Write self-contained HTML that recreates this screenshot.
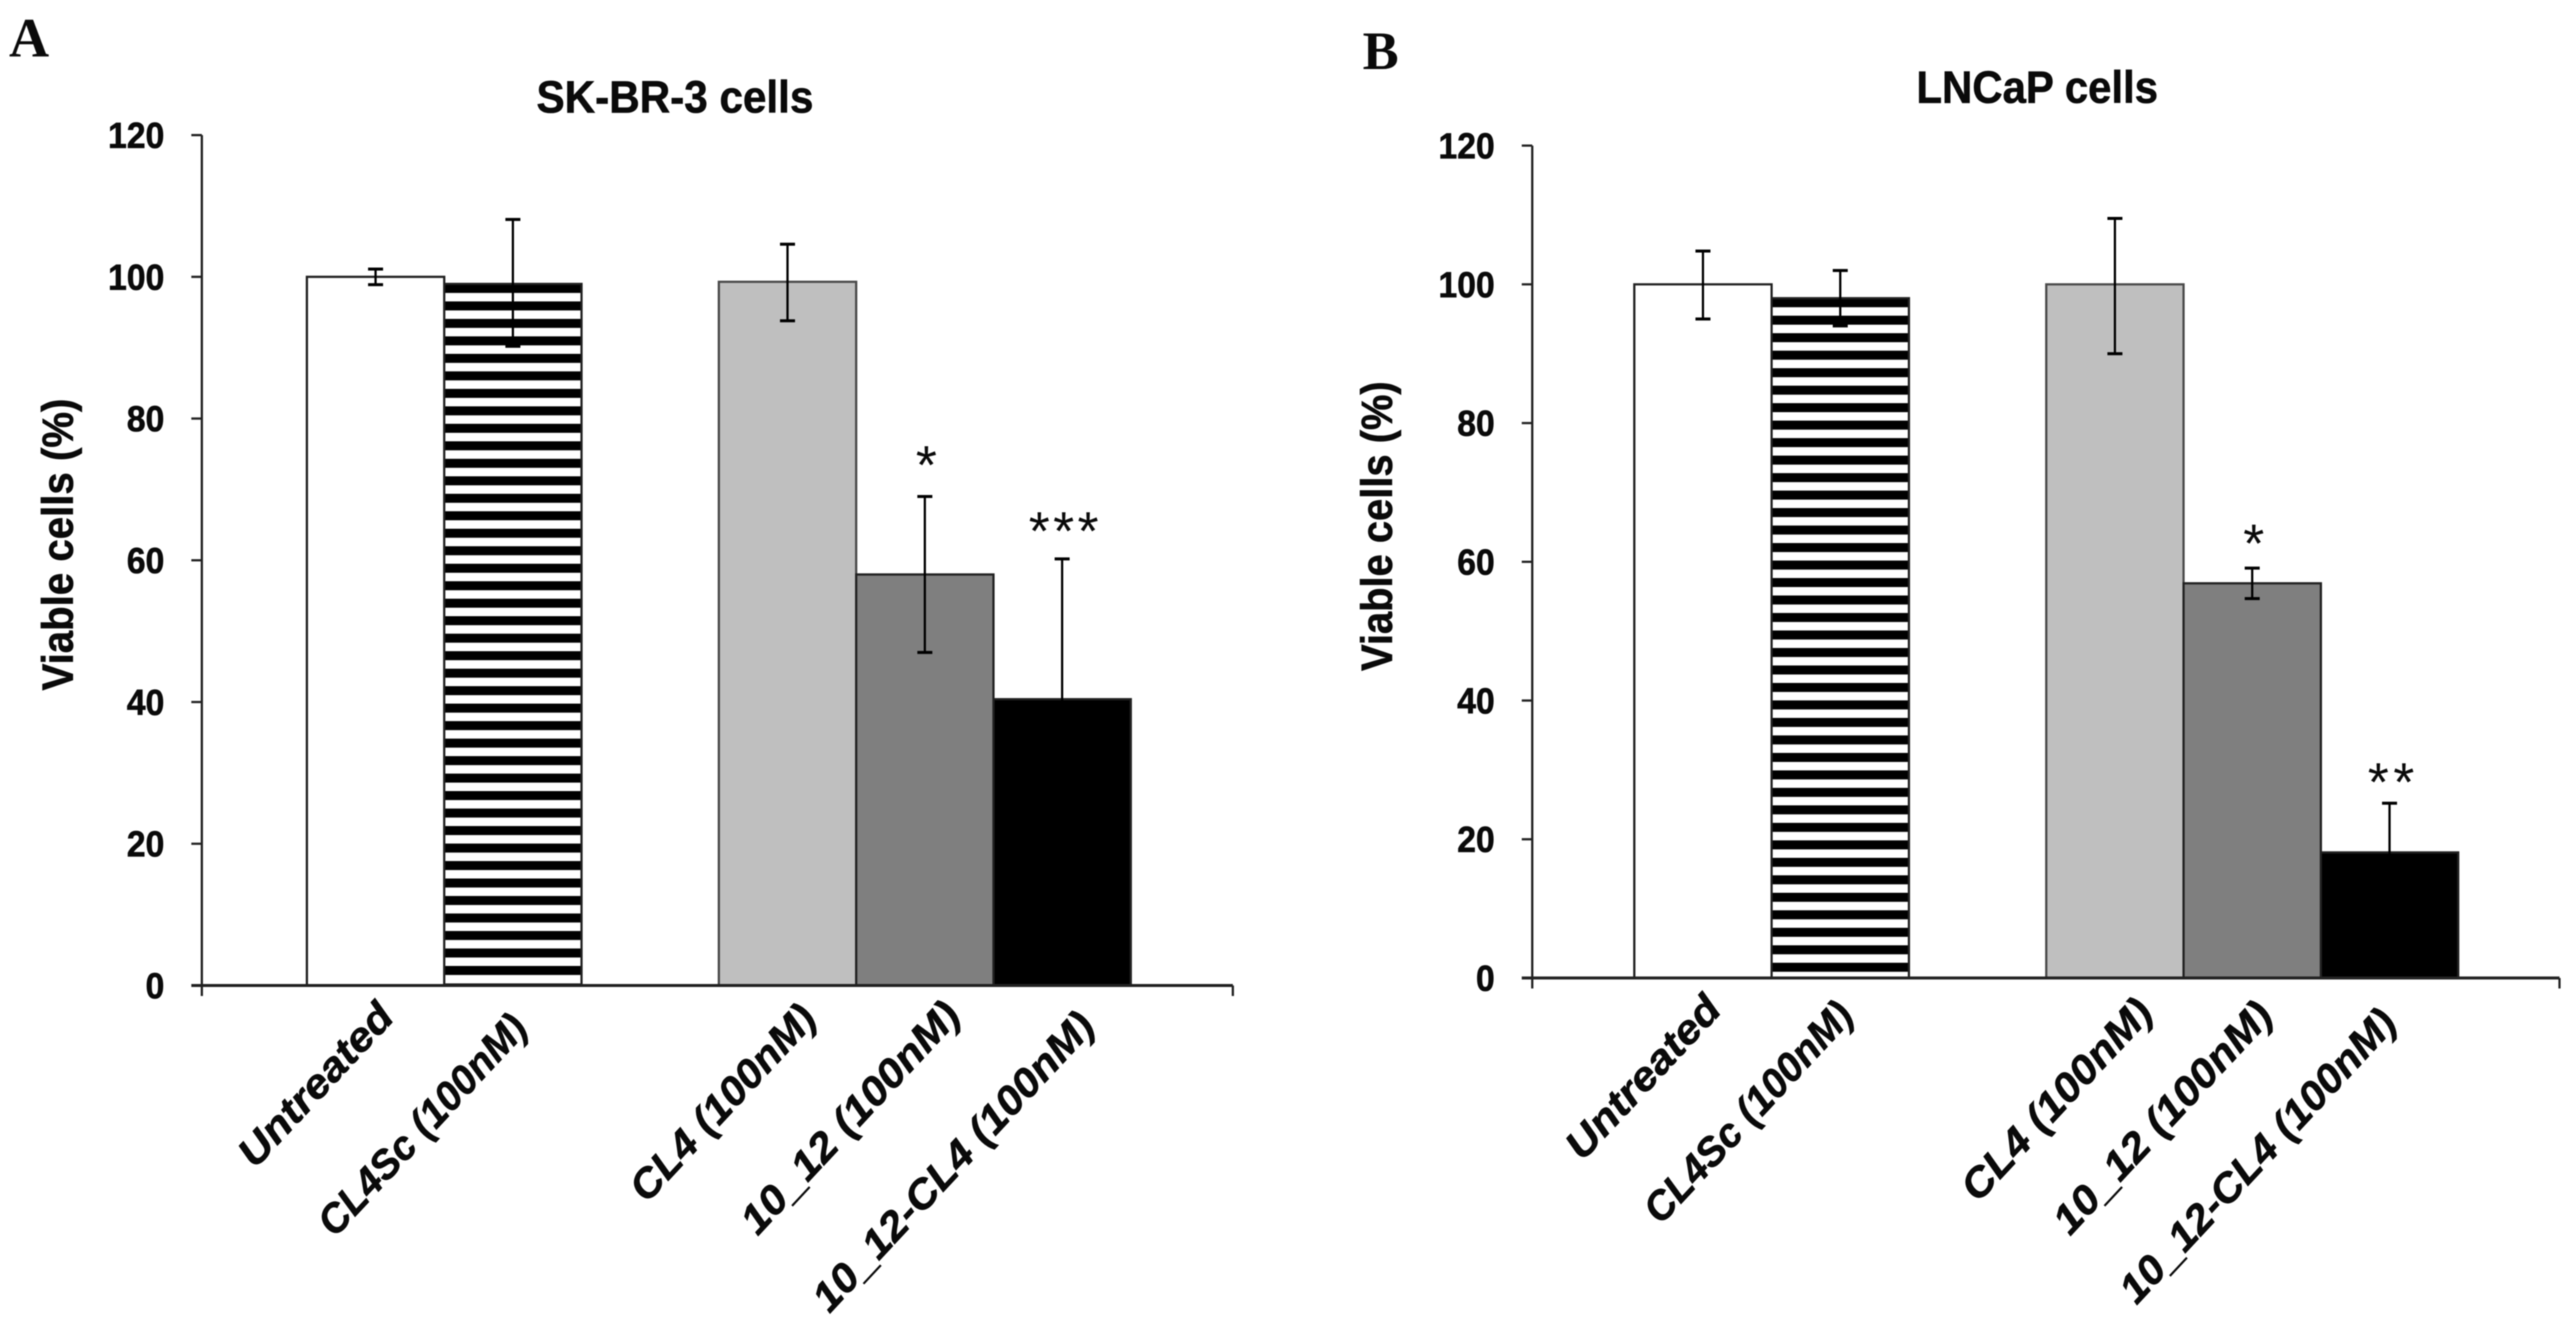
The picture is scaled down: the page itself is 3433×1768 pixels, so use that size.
<!DOCTYPE html>
<html lang="en">
<head>
<meta charset="utf-8">
<title>Viable cells: SK-BR-3 and LNCaP</title>
<style>
  html, body { margin: 0; padding: 0; background: #fff; }
  body { width: 3433px; height: 1768px; overflow: hidden; }
  svg { display: block; filter: blur(0.7px); }
  text { fill: #0a0a0a; }
  .sans { font-family: "Liberation Sans", sans-serif; font-weight: 700; stroke: #0a0a0a; stroke-width: 0.8px; }
  .serif { font-family: "Liberation Serif", serif; font-weight: 700; }
</style>
</head>
<body>
<svg id="figure" xmlns="http://www.w3.org/2000/svg" width="3433" height="1768" viewBox="0 0 3433 1768">
  <rect x="0" y="0" width="3433" height="1768" fill="#fff"/>
  <defs id="defs"></defs>
  <text class="serif" x="12" y="75" font-size="74">A</text>
  <text class="serif" x="1816" y="92" font-size="72">B</text>
  <text class="sans" x="715" y="150" font-size="60" textLength="369" lengthAdjust="spacingAndGlyphs">SK-BR-3 cells</text>
  <text class="sans" x="2554" y="137" font-size="60" textLength="322" lengthAdjust="spacingAndGlyphs">LNCaP cells</text>
  <text class="sans" transform="translate(97 920) rotate(-90)" font-size="58" textLength="389" lengthAdjust="spacingAndGlyphs">Viable cells (%)</text>
  <text class="sans" transform="translate(1855 894) rotate(-90)" font-size="58" textLength="386" lengthAdjust="spacingAndGlyphs">Viable cells (%)</text>
  <g id="panel-a"></g>
  <g id="panel-b"></g>
</svg>
<script>
const categories = ['Untreated', 'CL4Sc (100nM)', '', 'CL4 (100nM)', '10_12 (100nM)', '10_12-CL4 (100nM)'];
const yTicks = [0, 20, 40, 60, 80, 100, 120];
const barFills = ['#ffffff', 'stripes', null, '#bfbfbf', '#7f7f7f', '#000000'];

const skbr3Values = [100, 99, null, 99.3, 58, 40.4];
const skbr3Upper = [101.1, 108.1, null, 104.6, 69, 60.2];
const skbr3Lower = [98.9, 90.2, null, 93.8, 47, 20.6];
const skbr3Marks = ['', '', '', '', '*', '***'];

const lncapValues = [100, 98, null, 100, 56.9, 18.1];
const lncapUpper = [104.8, 102, null, 109.5, 59.1, 25.2];
const lncapLower = [95, 94, null, 90, 54.7, 11];
const lncapMarks = ['', '', '', '', '*', '**'];

const NS = 'http://www.w3.org/2000/svg';

function svgEl(tag, attrs, parent) {
  const node = document.createElementNS(NS, tag);
  for (const key in attrs) node.setAttribute(key, attrs[key]);
  parent.appendChild(node);
  return node;
}

function drawChart(cfg) {
  const root = document.getElementById(cfg.rootId);
  const yScale = v => cfg.y0 + (cfg.y120 - cfg.y0) * v / 120;
  const xLeft = i => cfg.firstBarX + i * cfg.band;
  const xMid = i => xLeft(i) + cfg.band / 2;

  // stripe pattern anchored on the top of the striped bar
  const pattern = svgEl('pattern', {
    id: cfg.rootId + '-stripes',
    patternUnits: 'userSpaceOnUse',
    x: 0,
    y: yScale(cfg.values[1]),
    width: 20,
    height: 23.3
  }, document.getElementById('defs'));
  svgEl('rect', { x: 0, y: 0, width: 20, height: 23.3, fill: '#ffffff' }, pattern);
  svgEl('rect', { x: 0, y: 0, width: 20, height: 12, fill: '#000000' }, pattern);

  // bars
  cfg.values.forEach((value, i) => {
    if (value === null) return;
    const fill = barFills[i] === 'stripes' ? 'url(#' + cfg.rootId + '-stripes)' : barFills[i];
    const bar = svgEl('rect', {
      x: xLeft(i),
      y: yScale(value),
      width: cfg.band,
      height: yScale(0) - yScale(value),
      fill: fill,
      stroke: i === 3 ? '#4a4a4a' : '#222222',
      'stroke-width': 3
    }, root);
    
    
  });

  // axes
  const yAxis = svgEl('line', { x1: cfg.axisLeft, x2: cfg.axisLeft, y1: yScale(120), y2: yScale(0) + 14, stroke: '#222', 'stroke-width': 3 }, root);
  
  
  const xAxis = svgEl('line', { x1: cfg.axisLeft - 14, x2: cfg.axisRight, y1: yScale(0), y2: yScale(0), stroke: '#222', 'stroke-width': 4 }, root);
  
  
  const xEndTick = svgEl('line', { x1: cfg.axisRight, x2: cfg.axisRight, y1: yScale(0), y2: yScale(0) + 14, stroke: '#222', 'stroke-width': 3 }, root);
  
  

  // y ticks and labels
  yTicks.forEach(tick => {
    const tickLine = svgEl('line', { x1: cfg.axisLeft - 14, x2: cfg.axisLeft, y1: yScale(tick), y2: yScale(tick), stroke: '#222', 'stroke-width': 3 }, root);
    
    
    const s = String(tick);
    const label = svgEl('text', {
      class: 'sans',
      x: cfg.axisLeft - 50,
      y: yScale(tick) + 17,
      'font-size': 48,
      'text-anchor': 'end',
      textLength: s.length * 25,
      lengthAdjust: 'spacingAndGlyphs'
    }, root);
    label.textContent = s;
    
    
  });

  // error bars
  cfg.values.forEach((value, i) => {
    if (value === null) return;
    const group = svgEl('g', { stroke: '#000', fill: 'none' }, root);
    
    
    svgEl('line', { x1: xMid(i), x2: xMid(i), y1: yScale(cfg.upper[i]), y2: yScale(cfg.lower[i]), 'stroke-width': 3 }, group);
    svgEl('line', { x1: xMid(i) - 10, x2: xMid(i) + 10, y1: yScale(cfg.upper[i]), y2: yScale(cfg.upper[i]), 'stroke-width': 4 }, group);
    svgEl('line', { x1: xMid(i) - 10, x2: xMid(i) + 10, y1: yScale(cfg.lower[i]), y2: yScale(cfg.lower[i]), 'stroke-width': 4 }, group);
  });

  // significance markers
  cfg.marks.forEach((mark, i) => {
    if (!mark) return;
    const star = svgEl('text', {
      x: xMid(i) + 2,
      y: yScale(cfg.upper[i]) - 12 + cfg.markDy[i],
      'font-size': 72,
      'font-family': '"Liberation Sans", sans-serif',
      'text-anchor': 'middle',
      textLength: mark.length * 31,
      lengthAdjust: 'spacing'
    }, root);
    star.textContent = mark;
    
    
  });

  // rotated category labels
  categories.forEach((name, i) => {
    if (!name) return;
    const label = svgEl('text', {
      class: 'sans',
      transform: 'translate(' + (xMid(i) + cfg.labelDx[i]) + ' ' + (yScale(0) + cfg.labelDy[i]) + ') rotate(-47)',
      'font-size': 54,
      'font-style': 'italic',
      'text-anchor': 'end',
      textLength: cfg.labelLen[i],
      lengthAdjust: 'spacingAndGlyphs'
    }, root);
    label.textContent = name;
    
    
  });
}

drawChart({
  rootId: 'panel-a',
  values: skbr3Values, upper: skbr3Upper, lower: skbr3Lower, marks: skbr3Marks,
  y0: 1313, y120: 180, axisLeft: 269, axisRight: 1643, firstBarX: 409, band: 183,
  markDy: [0, 0, 0, 0, -5, 0],
  labelDx: [27, 22, 0, 41, 50, 46],
  labelDy: [44, 59, 0, 46, 42, 56],
  labelLen: [275, 380, 0, 335, 400, 522]
});

drawChart({
  rootId: 'panel-b',
  values: lncapValues, upper: lncapUpper, lower: lncapLower, marks: lncapMarks,
  y0: 1303, y120: 194, axisLeft: 2042, axisRight: 3411, firstBarX: 2178, band: 183,
  markDy: [0, 0, 0, 0, 4, 9],
  labelDx: [27, 20, 0, 53, 30, 12],
  labelDy: [44, 52, 0, 48, 52, 62],
  labelLen: [275, 380, 0, 345, 400, 512]
});
</script>
</body>
</html>
